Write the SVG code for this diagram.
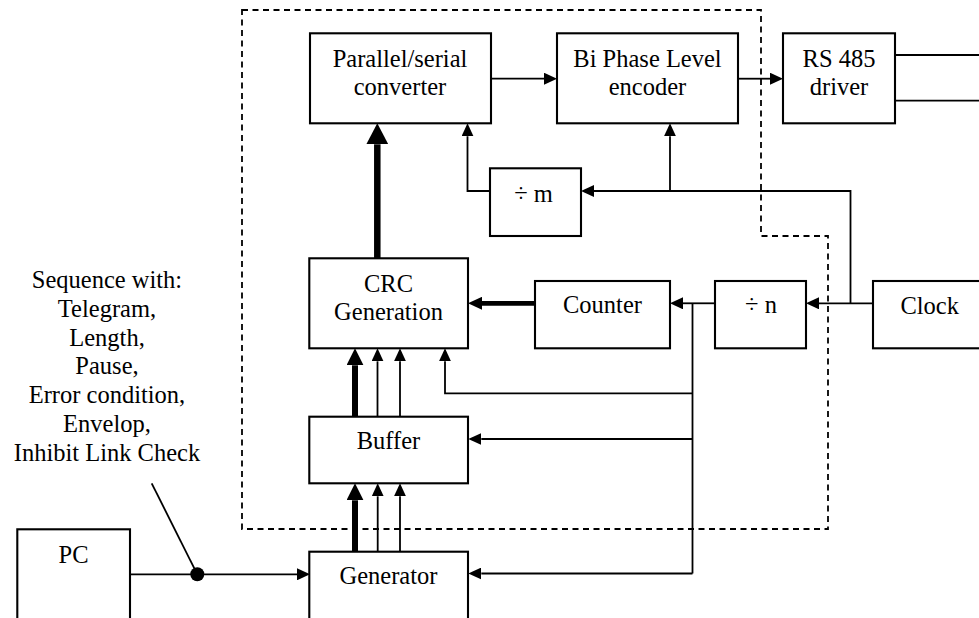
<svg xmlns="http://www.w3.org/2000/svg" width="979" height="618" viewBox="0 0 979 618">
<style>
.box{fill:#fff;stroke:#000;stroke-width:2.1}
.ln{fill:none;stroke:#000;stroke-width:1.8}
.t{font-family:"Liberation Serif","Times New Roman",serif;font-size:24.5px;fill:#000;text-anchor:middle}
.dash{fill:none;stroke:#000;stroke-width:1.8;stroke-dasharray:6 4.5}
</style>
<defs>
<marker id="aThin" markerUnits="userSpaceOnUse" markerWidth="13" markerHeight="12" refX="0" refY="6" orient="auto"><path d="M0,0 L13,6 L0,12 Z" fill="#000"/></marker>
<marker id="aMed" markerUnits="userSpaceOnUse" markerWidth="14" markerHeight="13" refX="0" refY="6.5" orient="auto"><path d="M0,0 L14,6.5 L0,13 Z" fill="#000"/></marker>
<marker id="aThick" markerUnits="userSpaceOnUse" markerWidth="17" markerHeight="17" refX="0" refY="8.5" orient="auto"><path d="M0,0 L17,8.5 L0,17 Z" fill="#000"/></marker>
<marker id="aBig" markerUnits="userSpaceOnUse" markerWidth="21" markerHeight="22" refX="0" refY="11" orient="auto"><path d="M0,0 L21,11 L0,22 Z" fill="#000"/></marker>
</defs>

<path id="boundary" class="dash" d="M242,10 H761 V236 H828 V529 H242 Z"/>

<g id="connectors">
<path class="ln" d="M491,78.7 H544" marker-end="url(#aThin)"/>
<path class="ln" d="M738,78.7 H770" marker-end="url(#aThin)"/>
<path class="ln" d="M895,55 H979"/>
<path class="ln" d="M895,100.7 H979"/>
<path class="ln" d="M490,191 H467.5 V136.3" marker-end="url(#aThin)"/>
<path class="ln" d="M850.5,303.3 V191 H594" marker-end="url(#aThin)"/>
<path class="ln" d="M670,191 V136.3" marker-end="url(#aThin)"/>
<path class="ln" d="M873,303.3 H819" marker-end="url(#aThin)"/>
<path class="ln" d="M715,303.3 H683" marker-end="url(#aThin)"/>
<path class="ln" d="M692.5,303.3 V573.5"/>
<path class="ln" d="M692.5,393.3 H445 V361.3" marker-end="url(#aThin)"/>
<path class="ln" d="M692.5,439 H481.3" marker-end="url(#aThin)"/>
<path class="ln" d="M692.5,573.5 H481.3" marker-end="url(#aThin)"/>
<path fill="none" stroke="#000" stroke-width="4.7" d="M535,303.3 H482" marker-end="url(#aMed)"/>
<path fill="none" stroke="#000" stroke-width="6.5" d="M377.3,258 V144.3" marker-end="url(#aBig)"/>
<path fill="none" stroke="#000" stroke-width="6" d="M355,416.7 V365.3" marker-end="url(#aThick)"/>
<path class="ln" d="M377.5,416.7 V361.3" marker-end="url(#aThin)"/>
<path class="ln" d="M400,416.7 V361.3" marker-end="url(#aThin)"/>
<path fill="none" stroke="#000" stroke-width="6" d="M355,551.7 V500.3" marker-end="url(#aThick)"/>
<path class="ln" d="M377.7,551.7 V496.3" marker-end="url(#aThin)"/>
<path class="ln" d="M400,551.7 V496.3" marker-end="url(#aThin)"/>
<path class="ln" d="M130,574.3 H297" marker-end="url(#aThin)"/>
<path class="ln" d="M151.7,483.3 L197.3,574.3"/>
<circle cx="197.3" cy="574.3" r="7" fill="#000"/>
</g>

<g id="parallel">
<rect class="box" x="310" y="33.3" width="181" height="90"/>
<text class="t" x="400" y="66.7">Parallel/serial</text>
<text class="t" x="400" y="94.5">converter</text>
</g>
<g id="biphase">
<rect class="box" x="557" y="33.3" width="181" height="90"/>
<text class="t" x="647.5" y="66.7">Bi Phase Level</text>
<text class="t" x="647.5" y="94.5">encoder</text>
</g>
<g id="rs485">
<rect class="box" x="783" y="33.3" width="112" height="90"/>
<text class="t" x="839" y="66.7">RS 485</text>
<text class="t" x="839" y="94.5">driver</text>
</g>
<g id="divm">
<rect class="box" x="490" y="168.3" width="91" height="67.7"/>
<text class="t" x="533.5" y="201.7">÷ m</text>
</g>
<g id="crc">
<rect class="box" x="309.3" y="258.3" width="158.7" height="90"/>
<text class="t" x="388.5" y="291.7">CRC</text>
<text class="t" x="388.5" y="320">Generation</text>
</g>
<g id="counter">
<rect class="box" x="535" y="281" width="135" height="67.3"/>
<text class="t" x="602.5" y="313.3">Counter</text>
</g>
<g id="divn">
<rect class="box" x="715" y="281" width="91" height="67.3"/>
<text class="t" x="761" y="313.3">÷ n</text>
</g>
<g id="clock">
<rect class="box" x="873" y="281" width="113" height="67.3"/>
<text class="t" x="929.7" y="314">Clock</text>
</g>
<g id="buffer">
<rect class="box" x="309.3" y="416.7" width="158.7" height="66.6"/>
<text class="t" x="388.5" y="449.3">Buffer</text>
</g>
<g id="generator">
<rect class="box" x="309.3" y="551.7" width="158.7" height="80"/>
<text class="t" x="388.5" y="584.3">Generator</text>
</g>
<g id="pc">
<rect class="box" x="17.3" y="529.3" width="112.7" height="100"/>
<text class="t" x="73.5" y="562.7">PC</text>
</g>
<g id="note">
<text class="t" x="107" y="288.3">Sequence with:</text>
<text class="t" x="107" y="317">Telegram,</text>
<text class="t" x="107" y="345.7">Length,</text>
<text class="t" x="107" y="374.4">Pause,</text>
<text class="t" x="107" y="403.1">Error condition,</text>
<text class="t" x="107" y="431.8">Envelop,</text>
<text class="t" x="107" y="460.5">Inhibit Link Check</text>
</g>
</svg>
